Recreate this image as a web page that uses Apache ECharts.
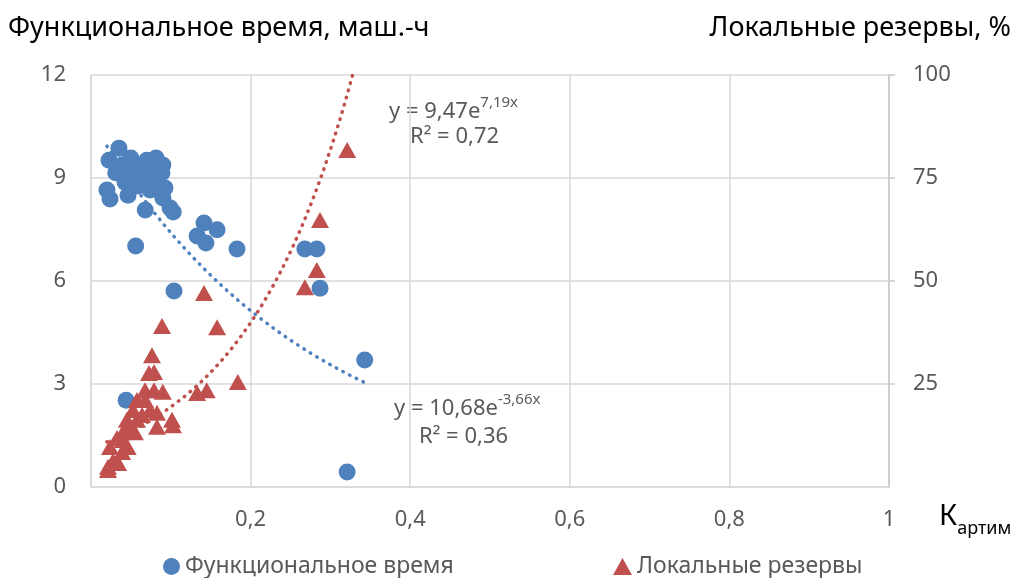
<!DOCTYPE html>
<html><head><meta charset="utf-8">
<script src="https://cdn.jsdelivr.net/npm/echarts@6/dist/echarts.min.js"></script>
<style>html,body{margin:0;padding:0;background:#fff}#c{width:1014px;height:578px}</style>
</head><body><div id="c"></div>
<script>
const FONT = "'Noto Sans', 'Open Sans', sans-serif";

// Axis tick settings (values)
const xTicks = [0, 0.2, 0.4, 0.6, 0.8, 1];
const leftTicks = [0, 3, 6, 9, 12];
const rightTicks = [0, 25, 50, 75, 100];

// Functional time (left axis, hours)
const blueX = [0.0226,0.020,0.0238,0.035,0.031,0.039,0.0426,0.0464,0.050,0.054,0.059,0.064,0.068,0.070,0.074,0.078,0.0815,0.084,0.0865,0.090,0.0927,0.068,0.090,0.099,0.103,0.089,0.086,0.044,0.060,0.076,0.056,
  0.044,0.104,0.1416,0.158,0.133,0.144,0.183,0.268,0.283,0.287,0.343,0.321];
const blueY = [9.52,8.65,8.39,9.87,9.15,9.38,8.88,8.50,9.58,9.17,8.77,9.38,9.00,9.52,8.65,9.23,9.58,8.85,9.17,9.38,8.71,8.07,8.42,8.13,8.01,9.15,8.80,9.05,9.05,8.95,7.02,
  2.53,5.71,7.69,7.49,7.31,7.11,6.93,6.93,6.93,5.79,3.70,0.44];

// Local reserves (right axis, %)
const redX = [0.321,0.287,0.283,0.268,0.1416,0.089,0.158,0.0764,0.079,0.0727,0.184,0.0677,0.079,0.090,0.133,0.145,0.0576,0.0526,0.0827,0.1015,0.1028,0.0827,0.064,0.049,0.055,0.040,0.0326,0.046,0.0238,0.039,0.0276,0.0213,0.0213,0.034,0.040,0.074,0.068,0.045,0.0576];
const redY = [81.8,64.8,52.7,48.5,47.1,39.1,38.8,32.0,27.9,27.7,25.5,23.5,23.5,23.1,22.8,23.5,21.1,18.7,18.0,16.3,15.0,14.6,17.5,14.6,13.3,13.3,11.9,9.7,9.7,8.5,6.3,4.9,4.1,5.8,11.4,18.7,21.1,16.3,16.3];

// Exponential trendlines y = a*e^(b*x) as shown on the chart
const trendBlueCoef = [10.68, -3.66];
const trendRedCoef = [9.47, 7.19];
const trendRange = [0.020, 0.343];

function trend(coef) {
  const pts = [];
  const n = 120;
  for (let i = 0; i <= n; i++) {
    const x = trendRange[0] + (trendRange[1] - trendRange[0]) * i / n;
    pts.push([x, coef[0] * Math.exp(coef[1] * x)]);
  }
  return pts;
}
const zip = (a, b) => a.map((v, i) => [v, b[i]]);
const comma = v => String(v).replace('.', ',');

const BLUE = '#4F81BD', RED = '#C0504D', GRID = '#d9d9d9', LBL = '#595959';
const TICK_FS = 22, LEG_FS = 23, EQ_FS = 22, TITLE_FS = 27;

const chart = echarts.init(document.getElementById('c'));
chart.setOption({
  animation: false,
  backgroundColor: '#fff',
  textStyle: { fontFamily: FONT },
  grid: { left: 91, right: 125, top: 75, bottom: 91 },
  xAxis: {
    type: 'value', min: xTicks[0], max: xTicks[xTicks.length - 1], interval: 0.2,
    axisLine: { show: true, lineStyle: { color: GRID, width: 1.5 } },
    axisTick: { show: false },
    splitLine: { show: true, lineStyle: { color: GRID, width: 1.5 } },
    axisLabel: { showMinLabel: false, color: LBL, fontSize: TICK_FS, fontFamily: FONT, margin: 22, formatter: comma }
  },
  yAxis: [{
    type: 'value', position: 'left', min: leftTicks[0], max: leftTicks[leftTicks.length - 1], interval: 3,
    axisLine: { show: true, lineStyle: { color: GRID, width: 1.5 } },
    axisTick: { show: false },
    splitLine: { show: true, lineStyle: { color: GRID, width: 1.5 } },
    axisLabel: { color: LBL, fontSize: TICK_FS, fontFamily: FONT, margin: 25, formatter: comma }
  }, {
    type: 'value', position: 'right', min: rightTicks[0], max: rightTicks[rightTicks.length - 1], interval: 25,
    axisLine: { show: true, lineStyle: { color: '#c8c8c8', width: 1.5 } },
    axisTick: { show: true, length: 6, lineStyle: { color: '#c8c8c8', width: 1.5 } },
    splitLine: { show: false },
    axisLabel: { showMinLabel: false, color: LBL, fontSize: TICK_FS, fontFamily: FONT, margin: 24, formatter: comma }
  }],
  legend: [{
    left: 163, top: 555, padding: 0, itemWidth: 17, itemHeight: 17,
    textStyle: { color: LBL, fontSize: LEG_FS, fontFamily: FONT },
    data: [{ name: 'Функциональное время', icon: 'circle' }]
  }, {
    left: 613, top: 555, padding: 0, itemWidth: 19, itemHeight: 17,
    textStyle: { color: LBL, fontSize: LEG_FS, fontFamily: FONT },
    data: [{ name: 'Локальные резервы', icon: 'triangle' }]
  }],
  series: [{
    name: 'Функциональное время', type: 'scatter', yAxisIndex: 0,
    symbol: 'circle', symbolSize: 17, itemStyle: { color: BLUE, opacity: 1 },
    data: zip(blueX, blueY), z: 2
  }, {
    name: 'Локальные резервы', type: 'scatter', yAxisIndex: 1,
    symbol: 'triangle', symbolSize: [18, 16], itemStyle: { color: RED, opacity: 1 },
    data: zip(redX, redY), z: 3
  }, {
    name: 'trendBlue', type: 'line', yAxisIndex: 0, showSymbol: false, symbol: 'none', smooth: false,
    lineStyle: { color: BLUE, width: 3.5, type: [0.5, 7], cap: 'round' },
    data: trend(trendBlueCoef), z: 4, silent: true, clip: true
  }, {
    name: 'trendRed', type: 'line', yAxisIndex: 1, showSymbol: false, symbol: 'none', smooth: false,
    lineStyle: { color: RED, width: 3.5, type: [0.5, 7], cap: 'round' },
    data: trend(trendRedCoef), z: 4, silent: true, clip: true
  }],
  graphic: [
    { type: 'text', x: 8, y: 28, style: { text: 'Функциональное время, маш.-ч', fill: '#000', font: TITLE_FS + 'px ' + FONT, verticalAlign: 'middle' } },
    { type: 'text', x: 1011, y: 28, style: { text: 'Локальные резервы, %', fill: '#000', font: TITLE_FS + 'px ' + FONT, align: 'right', verticalAlign: 'middle' } },
    { type: 'text', x: 939, y: 520, style: {
        verticalAlign: 'middle',
        text: '{k|К}{s|артим}', rich: {
          k: { fontSize: 29, fontFamily: FONT, fill: '#000', lineHeight: 36, verticalAlign: 'top' },
          s: { fontSize: 18, fontFamily: FONT, fill: '#000', lineHeight: 36, verticalAlign: 'bottom', padding: [14, 0, 0, 0] }
        } } },
    { type: 'text', x: 389, y: 109, style: {
        verticalAlign: 'middle',
        text: '{m|y = 9,47e}{p|7,19x}', rich: {
          m: { fontSize: EQ_FS, fontFamily: FONT, fill: LBL, lineHeight: 28, verticalAlign: 'bottom' },
          p: { fontSize: 15, fontFamily: FONT, fill: LBL, lineHeight: 28, verticalAlign: 'top', padding: [0, 0, 10, 0] }
        } } },
    { type: 'text', x: 410, y: 137, style: { text: 'R² = 0,72', fill: LBL, font: EQ_FS + 'px ' + FONT, verticalAlign: 'middle' } },
    { type: 'text', x: 394, y: 406, style: {
        verticalAlign: 'middle',
        text: '{m|y = 10,68e}{p|-3,66x}', rich: {
          m: { fontSize: EQ_FS, fontFamily: FONT, fill: LBL, lineHeight: 28, verticalAlign: 'bottom' },
          p: { fontSize: 15, fontFamily: FONT, fill: LBL, lineHeight: 28, verticalAlign: 'top', padding: [0, 0, 10, 0] }
        } } },
    { type: 'text', x: 419, y: 437, style: { text: 'R² = 0,36', fill: LBL, font: EQ_FS + 'px ' + FONT, verticalAlign: 'middle' } }
  ]
});
</script>
</body></html>
